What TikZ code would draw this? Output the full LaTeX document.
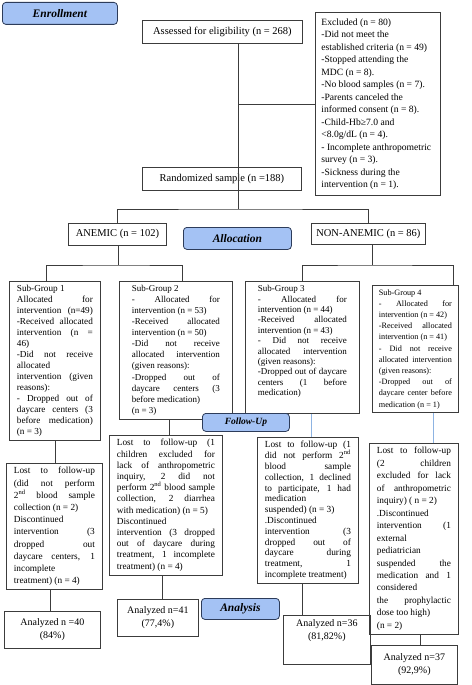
\documentclass[tikz,border=0pt]{standalone}
\usepackage{fontspec}
\setmainfont{Liberation Serif}
\usepackage{xcolor}
\definecolor{linegray}{RGB}{60,60,60}
\definecolor{phasefill}{RGB}{164,194,244}
\definecolor{phaseedge}{RGB}{45,60,90}
\definecolor{linkblue}{RGB}{141,179,226}
\hyphenpenalty=10000
\exhyphenpenalty=10000
\tolerance=10000
\hbadness=10000
\setlength{\parindent}{0pt}
% one printed line: spread to the full width, or left as it is
\newcommand{\jline}[1]{\hbox to\hsize{\spaceskip=0pt\xspaceskip=0pt\relax #1}\newline}
\newcommand{\pline}[1]{\hbox{#1}\newline}

\begin{document}
\begin{tikzpicture}[x=1pt, y=-1pt,
    txtbox/.style={draw=linegray, line width=.8pt, anchor=north west, align=justify, inner xsep=7.5pt, inner ysep=4pt},
    numbox/.style={draw=linegray, line width=.8pt, anchor=north west, align=center, inner sep=2pt, font=\fontsize{10.5}{12}\selectfont},
    anbox/.style={draw=linegray, line width=.8pt, anchor=north west, align=center, inner sep=2pt, font=\fontsize{10}{13}\selectfont},
    phase/.style={draw=phaseedge, fill=phasefill, line width=.8pt, rounded corners=3.5pt, anchor=north west, inner sep=2pt, font=\fontsize{11.5}{13}\bfseries\itshape\selectfont},
    link/.style={draw=linegray, line width=.8pt},
    bluelink/.style={draw=linkblue, line width=1pt}]

    \useasboundingbox (0,0) rectangle (471,685);

    % --- Enrollment ---
    \node[phase, minimum width=115pt, minimum height=22pt] (enroll) at (2,2) {Enrollment};
    \node[numbox, minimum width=160pt, minimum height=23pt] (assess) at (142,20) {Assessed for eligibility (n = 268)};
    \node[txtbox, text width=113pt, inner xsep=6pt, inner ysep=6pt, font=\fontsize{9.6}{12.5}\selectfont] (excl) at (315,12) {%
        \pline{Excluded (n = 80)}
        \pline{-Did not meet the}
        \pline{established criteria (n = 49)}
        \pline{-Stopped attending the}
        \pline{MDC (n = 8).}
        \pline{-No blood samples (n = 7).}
        \pline{-Parents canceled the}
        \pline{informed consent (n = 8).}
        \pline{-Child-Hb≥7.0 and}
        \pline{<8.0g/dL (n = 4).}
        \pline{- Incomplete anthropometric}
        \pline{survey (n = 3).}
        \pline{-Sickness during the}
        \hbox{intervention (n = 1).}};
    \node[numbox, minimum width=159pt, minimum height=23pt] (rand) at (142,167) {Randomized sample (n =188)};

    % split points
    \coordinate (split) at (238,209);
    \coordinate (asplit) at (118,265);
    \coordinate (nsplit) at (372,265);

    % --- Allocation ---
    \node[numbox, minimum width=98pt, minimum height=22pt] (anemic) at (68,223) {ANEMIC (n = 102)};
    \node[phase, minimum width=108pt, minimum height=22pt] (alloc) at (183,227) {Allocation};
    \node[numbox, minimum width=114pt, minimum height=21pt] (nonanemic) at (311,223) {NON-ANEMIC (n = 86)};

    % Sub-groups
    \node[txtbox, text width=76pt, font=\fontsize{9.2}{11}\selectfont] (sg1) at (9,281) {%
        \pline{Sub-Group 1}
        \jline{Allocated for}
        \jline{intervention (n=49)}
        \jline{-Received allocated}
        \jline{intervention (n =}
        \pline{46)}
        \jline{-Did not receive}
        \pline{allocated}
        \jline{intervention (given}
        \pline{reasons):}
        \jline{- Dropped out of}
        \jline{daycare centers (3}
        \jline{before medication)}
        \hbox{(n = 3)}};
    \node[txtbox, text width=88pt, minimum width=113pt, font=\fontsize{9}{11.05}\selectfont] (sg2) at (119,281) {%
        \pline{Sub-Group 2}
        \jline{- Allocated for}
        \pline{intervention (n = 53)}
        \jline{-Received allocated}
        \pline{intervention (n = 50)}
        \jline{-Did not receive}
        \jline{allocated intervention}
        \pline{(given reasons):}
        \jline{-Dropped out of}
        \jline{daycare centers (3}
        \pline{before medication)}
        \hbox{(n = 3)}};
    \node[txtbox, text width=89pt, minimum width=114pt, font=\fontsize{9}{10.4}\selectfont] (sg3) at (245,281) {%
        \pline{Sub-Group 3}
        \jline{- Allocated for}
        \pline{intervention (n = 44)}
        \jline{-Received allocated}
        \pline{intervention (n = 43)}
        \jline{- Did not receive}
        \jline{allocated intervention}
        \pline{(given reasons):}
        \jline{-Dropped out of daycare}
        \jline{centers (1 before}
        \hbox{medication)\rule[-14pt]{0pt}{14pt}}};
    \node[txtbox, text width=73pt, inner xsep=6.5pt, font=\fontsize{8.2}{11.2}\selectfont] (sg4) at (372,285) {%
        \pline{Sub-Group 4}
        \jline{- Allocated for}
        \pline{intervention (n = 42)}
        \jline{-Received allocated}
        \pline{intervention (n = 41)}
        \jline{- Did not receive}
        \jline{allocated intervention}
        \pline{(given reasons):}
        \jline{-Dropped out of}
        \jline{daycare center before}
        \hbox{medication (n = 1)}};

    % --- Follow-Up ---
    \node[phase, minimum width=87pt, minimum height=18pt, font=\fontsize{9.5}{11}\bfseries\itshape\selectfont] (follow) at (202,413) {Follow-Up};
    \node[txtbox, text width=81pt, font=\fontsize{9.3}{12.2}\selectfont] (lost1) at (6,463) {%
        \jline{Lost to follow-up}
        \jline{(did not perform}
        \jline{2\textsuperscript{nd} blood sample}
        \pline{collection (n = 2)}
        \pline{Discontinued}
        \jline{intervention (3}
        \jline{dropped out}
        \jline{daycare centers, 1}
        \pline{incomplete}
        \hbox{treatment) (n = 4)}};
    \node[txtbox, text width=98pt, font=\fontsize{9.3}{11.2}\selectfont] (lost2) at (109,435) {%
        \jline{Lost to follow-up (1}
        \jline{children excluded for}
        \jline{lack of anthropometric}
        \jline{inquiry, 2 did not}
        \jline{perform 2\textsuperscript{nd} blood sample}
        \jline{collection, 2 diarrhea}
        \pline{with medication) (n = 5)}
        \pline{Discontinued}
        \jline{intervention (3 dropped}
        \jline{out of daycare during}
        \jline{treatment, 1 incomplete}
        \hbox{treatment) (n = 4)}};
    \node[txtbox, text width=86pt, font=\fontsize{9.3}{10.8}\selectfont] (lost3) at (257,437) {%
        \jline{Lost to follow-up (1}
        \jline{did not perform 2\textsuperscript{nd}}
        \jline{blood sample}
        \jline{collection, 1 declined}
        \jline{to participate, 1 had}
        \pline{medication}
        \pline{suspended) (n = 3)}
        \pline{.Discontinued}
        \jline{intervention (3}
        \jline{dropped out of}
        \jline{daycare during}
        \jline{treatment, 1}
        \hbox{incomplete treatment)}};
    \node[txtbox, text width=74pt, font=\fontsize{9.3}{12.45}\selectfont] (lost4) at (369,443) {%
        \jline{Lost to follow-up}
        \jline{(2 children}
        \jline{excluded for lack}
        \jline{of anthropometric}
        \pline{inquiry) ( n = 2)}
        \pline{.Discontinued}
        \jline{intervention (1}
        \pline{external}
        \pline{pediatrician}
        \jline{suspended the}
        \jline{medication and 1}
        \pline{considered}
        \jline{the prophylactic}
        \pline{dose too high)}
        \hbox{(n = 2)}};

    % --- Analysis ---
    \node[anbox, minimum width=96pt, minimum height=37pt] (an1) at (4,611) {Analyzed n =40\\(84\%)};
    \node[anbox, minimum width=81pt, minimum height=37pt] (an2) at (117,599) {Analyzed n=41\\(77,4\%)};
    \node[phase, minimum width=78pt, minimum height=21pt] (analysis) at (201,598) {Analysis};
    \node[anbox, minimum width=87pt, inner ysep=4pt] (an3) at (283,615) {Analyzed n=36\\(81,82\%)\rule[-21pt]{0pt}{21pt}};
    \node[anbox, minimum width=86pt, minimum height=39pt] (an4) at (371,645) {Analyzed n=37\\(92,9\%)};

    % --- Connectors ---
    \draw[link] (assess.south -| split) -- (split);
    \draw[link] (excl.west) -- (excl.west -| split);
    \draw[link] (anemic.north) |- (split) -| (nonanemic.north);
    \draw[link] (anemic.south -| asplit) -- (asplit);
    \draw[link] ([xshift=-8.5pt]sg1.north) |- (asplit) -| ([xshift=6.5pt]sg2.north);
    \draw[link] (nonanemic.south -| nsplit) -- (nsplit);
    \draw[link] (sg3.north) |- (nsplit) -| ([xshift=38pt]sg4.north);

    \draw[link] (sg1.south) -- (sg1.south |- lost1.north);
    \draw[link] ([xshift=-6.5pt]sg2.south) -- ([xshift=-6.5pt]sg2.south |- lost2.north);
    \draw[bluelink] ([xshift=9pt]sg3.south) -- ([xshift=9pt]sg3.south |- lost3.north);
    \draw[bluelink] ([xshift=18pt]sg4.south) -- ([xshift=18pt]sg4.south |- lost4.north);

    \draw[link] ([xshift=-4.5pt]lost1.south) -- ([xshift=-4.5pt]lost1.south |- an1.north);
    \draw[link] ([xshift=-3.5pt]lost2.south) -- ([xshift=-3.5pt]lost2.south |- an2.north);
    \draw[link] ([xshift=-5.5pt]lost3.south) -- ([xshift=-5.5pt]lost3.south |- an3.north);
    \draw[link] ([xshift=6.5pt]lost4.south) -- ([xshift=6.5pt]lost4.south |- an4.north);

\end{tikzpicture}
\end{document}
